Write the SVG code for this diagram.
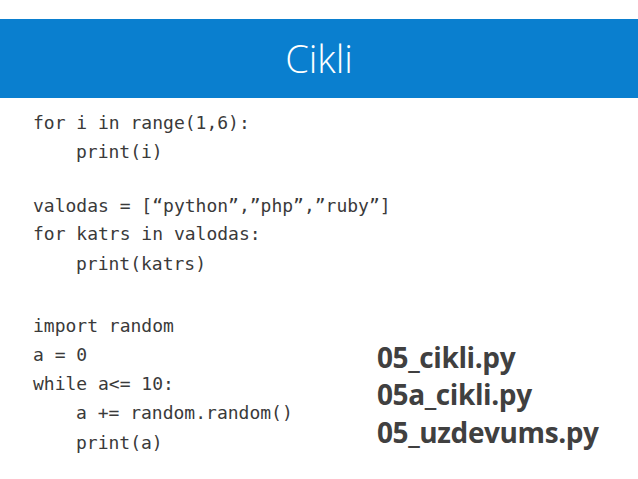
<svg xmlns="http://www.w3.org/2000/svg" width="638" height="479" viewBox="0 0 638 479">
<style>
.c{font-family:"DejaVu Sans Mono","Liberation Mono",monospace;font-size:18px;fill:#3a3a3a}
.f{font-family:"Open Sans","Noto Sans",sans-serif;font-weight:bold;font-size:28px;fill:#404040;letter-spacing:-0.4px}
</style>
<rect width="638" height="479" fill="#fff"/>
<rect x="0" y="19" width="638" height="79" fill="#0a7fcf"/>
<text x="319" y="73" text-anchor="middle" font-family="Open Sans,Noto Sans,sans-serif" font-weight="300" font-size="38" fill="#fff">Cikli</text>
<g class="c" xml:space="preserve">
<text x="33" y="129">for i in range(1,6):</text>
<text x="76" y="158">print(i)</text>
<text x="33" y="212">valodas = [“python”,”php”,”ruby”]</text>
<text x="33" y="240">for katrs in valodas:</text>
<text x="76" y="270">print(katrs)</text>
<text x="33" y="332">import random</text>
<text x="33" y="361">a = 0</text>
<text x="33" y="390">while a&lt;= 10:</text>
<text x="76" y="419">a += random.random()</text>
<text x="76" y="449">print(a)</text>
</g>
<g class="f">
<text x="377" y="368">05_cikli.py</text>
<text x="377" y="405">05a_cikli.py</text>
<text x="377" y="443">05_uzdevums.py</text>
</g>
</svg>
